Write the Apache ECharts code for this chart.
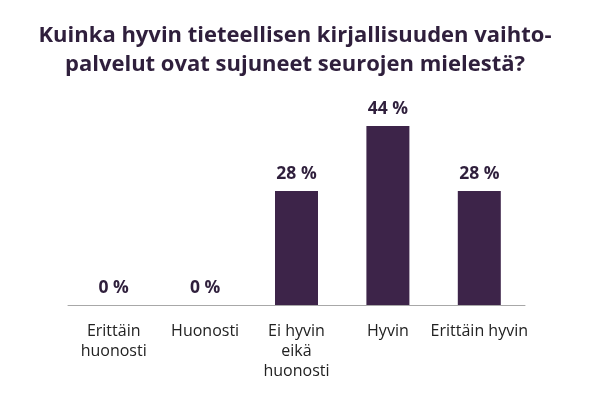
<!DOCTYPE html>
<html>
<head>
<meta charset="utf-8">
<script src="https://cdn.jsdelivr.net/npm/echarts@6/dist/echarts.min.js"></script>
<style>html,body{margin:0;padding:0;background:#fff;}#c{width:590px;height:394px;}</style>
</head>
<body>
<div id="c"></div>
<script>
const titleText = "Kuinka hyvin tieteellisen kirjallisuuden vaihto-\npalvelut ovat sujuneet seurojen mielestä?";
const categories = ["Erittäin\nhuonosti", "Huonosti", "Ei hyvin\neikä\nhuonosti", "Hyvin", "Erittäin hyvin"];
const values = [0, 0, 28, 44, 28];

const chart = echarts.init(document.getElementById('c'), null, {renderer: 'canvas'});
chart.setOption({
  backgroundColor: '#ffffff',
  animation: false,
  title: {
    text: titleText,
    left: 'center',
    top: 16,
    textStyle: {
      fontFamily: 'Open Sans',
      fontWeight: 'bold',
      fontSize: 22,
      lineHeight: 29,
      color: '#2f1f3c'
    }
  },
  grid: { left: 68, right: 65, top: 101.5, bottom: 89 },
  xAxis: {
    type: 'category',
    data: categories,
    axisLine: { lineStyle: { color: '#a8a8a8', width: 1 } },
    axisTick: { show: false },
    axisLabel: {
      interval: 0,
      margin: 16,
      fontFamily: 'Open Sans',
      fontSize: 16,
      lineHeight: 20,
      color: '#222222'
    }
  },
  yAxis: {
    type: 'value',
    min: 0, max: 50,
    show: false,
    splitLine: { show: false }
  },
  series: [{
    type: 'bar',
    data: values,
    barWidth: 43,
    itemStyle: { color: '#3d2449' },
    label: {
      show: true,
      position: 'top',
      distance: 8,
      formatter: p => p.value + ' %',
      fontFamily: 'Open Sans',
      fontWeight: 'bold',
      fontSize: 17.5,
      color: '#2f1f3c'
    }
  }]
});
</script>
</body>
</html>
